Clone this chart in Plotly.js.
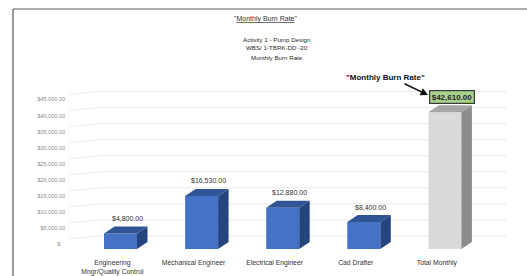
<!DOCTYPE html>
<html><head><meta charset="utf-8">
<script src="https://cdn.plot.ly/plotly-3.0.1.min.js"></script>
<style>html,body{margin:0;padding:0;background:#fff}#c{width:527px;height:276px}</style>
</head><body><div id="c"></div>
<script>
// ---- data ----
const categories = ["Engineering<br>Mngr/Quality Control", "Mechanical Engineer", "Electrical Engineer", "Cad Drafter", "Total Monthly"];
const values = [4800, 16530, 12880, 8400, 42610];
const yTickVals = [0, 5000, 10000, 15000, 20000, 25000, 30000, 35000, 40000, 45000];
const yTickText = ["$ \u00a0\u00a0", "$5,000.00", "$10,000.00", "$15,000.00", "$20,000.00", "$25,000.00", "$30,000.00", "$35,000.00", "$40,000.00", "$45,000.00"];
const gridVals = [0, 5000, 10000, 15000, 20000, 25000, 30000, 35000, 40000, 45000, 50000];

// ---- geometry / style ----
const L = 70, R = 506, T = 80, B = 27, W = 527, Hh = 276;
const PW = R - L, PH = Hh - T - B;
const X0 = 120.5, XS = 81.1;            // px of category 0, px per category
const U = 311.5;                        // value units per px
const xr = [(L - X0) / XS, (R - X0) / XS];
const yr = [0, PH * U];
const bw = 33 / XS, dx = 10.5 / XS, dy = 7 * U;
const frontCol = ["#4472c4", "#4472c4", "#4472c4", "#4472c4", "#d9d9d9"];
const topCol = ["#2f5597", "#2f5597", "#2f5597", "#2f5597", "#a6a6a6"];
const sideCol = ["#25457e", "#25457e", "#25457e", "#25457e", "#8c8c8c"];
const px2paperX = p => (p - L) / PW;
const px2paperY = p => (Hh - B - p) / PH;
const fmt = v => "$" + v.toLocaleString("en-US", {minimumFractionDigits: 2, maximumFractionDigits: 2});

const traces = [];
const shapes = [];
// gridlines (3D wall: diagonal on side wall then back wall), drawn below traces
const xDiag = (99 - X0) / XS;
gridVals.forEach(v => {
  shapes.push({type: "path", xref: "x", yref: "y", layer: "below",
    path: `M ${xr[0]} ${v - 6 * U} L ${xDiag} ${v - 3 * U} L ${xr[1]} ${v - 3 * U}`,
    line: {color: "#ebebeb", width: 1}});
});

// front faces
const idx = values.map((_, i) => i);
traces.push({type: "bar", x: idx, y: values, width: bw, marker: {color: frontCol, line: {width: 0}}, showlegend: false, hoverinfo: "skip"});
// top & side faces
values.forEach((v, i) => {
  const l = i - bw / 2, r = i + bw / 2;
  traces.push({type: "scatter", mode: "lines", x: [l, r, r + dx, l + dx, l], y: [v, v, v + dy, v + dy, v],
    fill: "toself", fillcolor: topCol[i], line: {width: 0, color: topCol[i]}, hoverinfo: "skip", showlegend: false});
  traces.push({type: "scatter", mode: "lines", x: [r, r + dx, r + dx, r, r], y: [0, dy, v + dy, v, 0],
    fill: "toself", fillcolor: sideCol[i], line: {width: 0, color: sideCol[i]}, hoverinfo: "skip", showlegend: false});
});
// axis labels (shifted axis)
traces.push({type: "scatter", x: [null], y: [null], yaxis: "y2", showlegend: false, hoverinfo: "skip"});

const F = "Liberation Sans, Arial, sans-serif";
const ann = [];
values.forEach((v, i) => {
  const isTot = i === values.length - 1;
  ann.push({x: i + 7 / XS, y: v, xref: "x", yref: "y", text: isTot ? "<b>" + fmt(v) + "</b>" : fmt(v),
    showarrow: false, xanchor: "center", yanchor: "middle", yshift: 15,
    font: {family: F, size: isTot ? 8 : 7, color: isTot ? "#262626" : "#333333"},
    bgcolor: isTot ? "#a9d18e" : "rgba(0,0,0,0)", bordercolor: isTot ? "#3a3a3a" : "rgba(0,0,0,0)",
    borderwidth: isTot ? 1.2 : 0, borderpad: isTot ? 1.5 : 0});
});
// callout
ann.push({xref: "paper", yref: "paper", x: px2paperX(385), y: px2paperY(77.5), text: "<b>\"Monthly Burn Rate\"</b>",
  showarrow: false, xanchor: "center", yanchor: "middle", font: {family: F, size: 8, color: "#111"}});
ann.push({xref: "paper", yref: "paper", x: px2paperX(428), y: px2paperY(95), ax: -25, ay: -12, text: "",
  showarrow: true, arrowhead: 2, arrowsize: 1, arrowwidth: 1.5, arrowcolor: "#111"});
// titles
ann.push({xref: "paper", yref: "paper", x: px2paperX(265), y: px2paperY(19), text: "\"<u>Monthly Burn Rate</u>\"",
  showarrow: false, xanchor: "center", yanchor: "middle", font: {family: F, size: 7, color: "#333333"}});
[["Activity 1 - Pump Design", 39], ["WBS/ 1-TBRK-DD -20", 48], ["Monthly Burn Rate", 57]].forEach(([t, y]) => {
  ann.push({xref: "paper", yref: "paper", x: px2paperX(277), y: px2paperY(y), text: t, showarrow: false,
    xanchor: "center", yanchor: "middle", font: {family: F, size: 6.2, color: "#2a2a2a"}});
});

const layout = {
  width: W, height: Hh, margin: {l: L, r: W - R, t: T, b: B},
  paper_bgcolor: "#fff", plot_bgcolor: "rgba(0,0,0,0)",
  showlegend: false, barmode: "overlay",
  xaxis: {range: xr, tickvals: idx.map(i => i - 0.1), ticktext: categories, showgrid: false, zeroline: false,
    showline: false, ticks: "", ticklabelstandoff: 8, tickfont: {family: F, size: 6.8, color: "#333333"}, fixedrange: true},
  yaxis: {range: yr, showgrid: false, zeroline: false, showline: false, showticklabels: false, ticks: "", fixedrange: true},
  yaxis2: {overlaying: "y", side: "left", range: [yr[0] - 5 * U, yr[1] - 5 * U], tickvals: yTickVals, ticktext: yTickText,
    showgrid: false, zeroline: false, showline: false, ticks: "", ticklabelstandoff: 4,
    tickfont: {family: F, size: 5.5, color: "#8c8c8c"}, fixedrange: true},
  annotations: ann,
  shapes: shapes.concat([
    {type: "line", xref: "paper", yref: "paper", x0: px2paperX(13), x1: px2paperX(13), y0: px2paperY(9), y1: px2paperY(280), line: {color: "#5a5a5a", width: 1.2}},
    {type: "line", xref: "paper", yref: "paper", x0: px2paperX(13), x1: px2paperX(530), y0: px2paperY(9), y1: px2paperY(9), line: {color: "#5a5a5a", width: 1.2}}
  ])
};
Plotly.newPlot("c", traces, layout, {displayModeBar: false, staticPlot: true});
</script></body></html>
